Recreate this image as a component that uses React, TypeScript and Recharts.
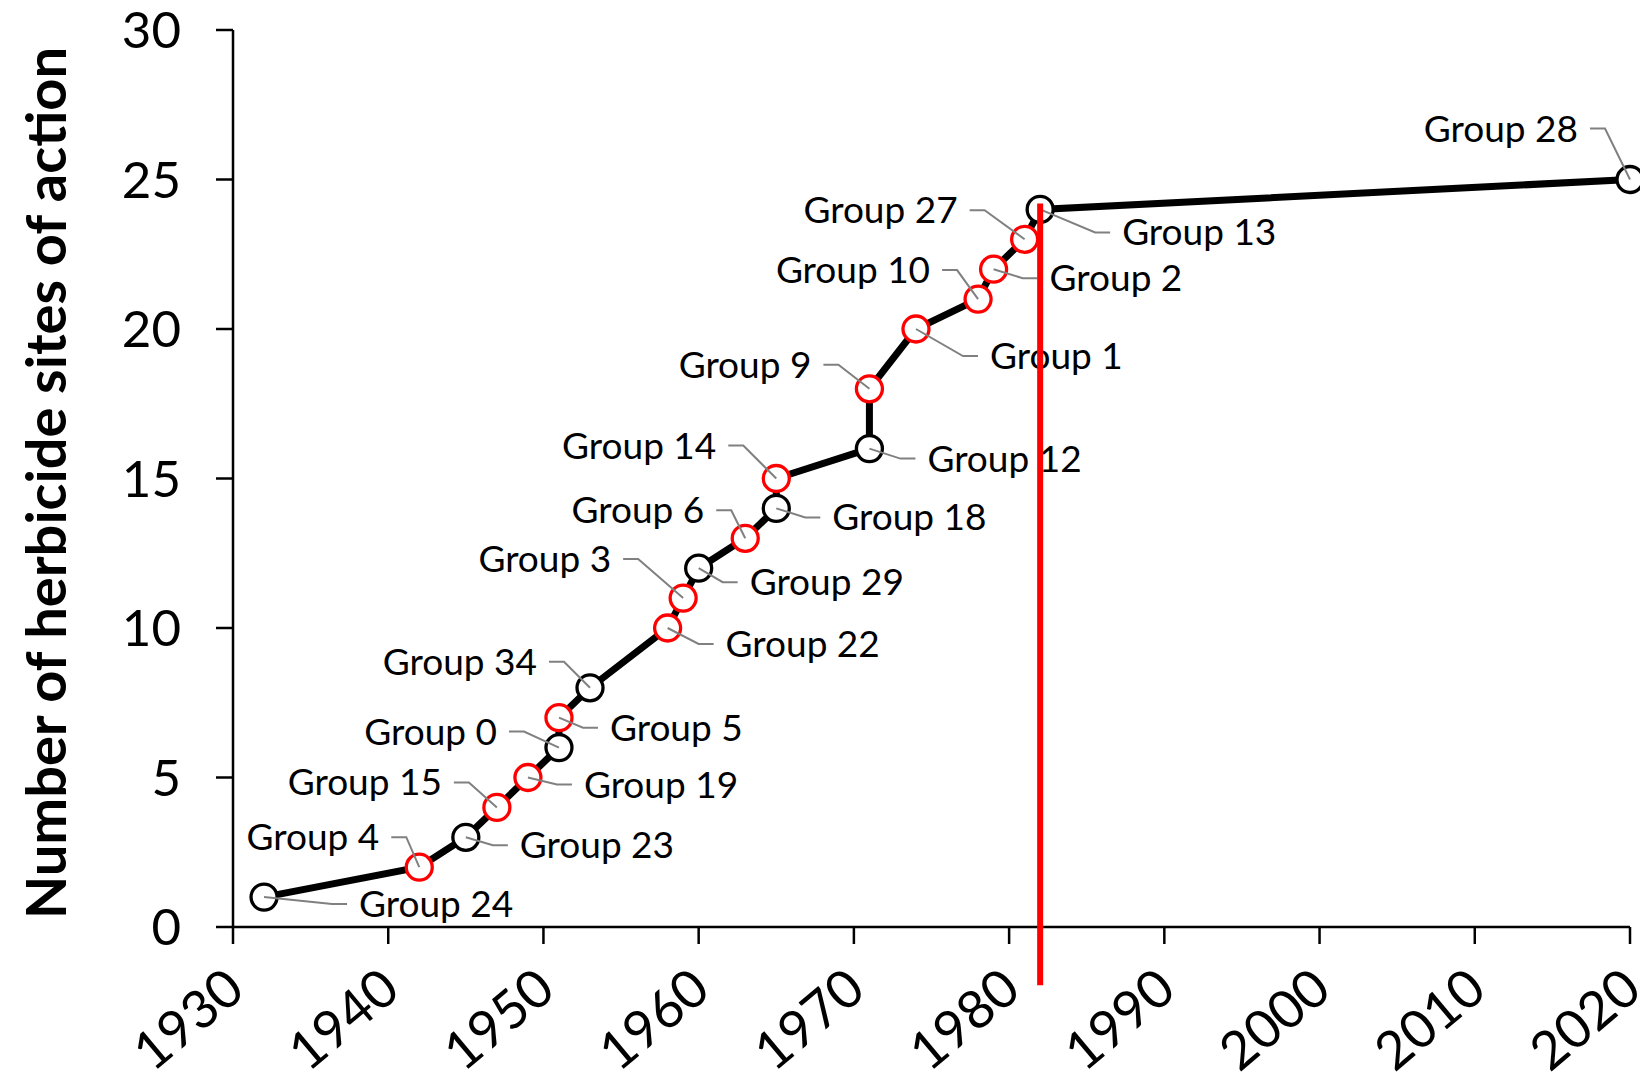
import {
  LineChart,
  Line,
  XAxis,
  YAxis,
  Label,
  LabelList,
  ReferenceLine,
} from 'recharts';

const years = [
  1932, 1942, 1945, 1947, 1949, 1951, 1951, 1953, 1958, 1959, 1960,
  1963, 1965, 1965, 1971, 1971, 1974, 1978, 1979, 1981, 1982, 2020,
];
const siteCounts = [
  1, 2, 3, 4, 5, 6, 7, 8, 10, 11, 12, 13, 14, 15, 16, 18, 20, 21, 22, 23, 24, 25,
];
const groupNames = [
  'Group 24', 'Group 4', 'Group 23', 'Group 15', 'Group 19', 'Group 0',
  'Group 5', 'Group 34', 'Group 22', 'Group 3', 'Group 29', 'Group 6',
  'Group 18', 'Group 14', 'Group 12', 'Group 9', 'Group 1', 'Group 10',
  'Group 2', 'Group 27', 'Group 13', 'Group 28',
];
const highlightedGroups = [
  'Group 4', 'Group 15', 'Group 19', 'Group 5', 'Group 22', 'Group 3',
  'Group 6', 'Group 14', 'Group 9', 'Group 1', 'Group 10', 'Group 2', 'Group 27',
];
const yearTicks = [1930, 1940, 1950, 1960, 1970, 1980, 1990, 2000, 2010, 2020];
const siteTicks = [0, 5, 10, 15, 20, 25, 30];
const markerYear = 1982;
const markerRange = [-1.95, 24.2];

// where each label sits relative to its point (near edge, cap middle)
const labelOffsets = [
  [95, 7], [-40, -30], [54, 8], [-55, -25], [56, 7], [-62, -16],
  [51, 10], [-53, -26], [58, 16], [-72, -39], [51, 14], [-41, -28],
  [56, 9], [-60, -33], [58, 10], [-58, -24], [74, 27], [-48, -29],
  [56, 9], [-67, -29], [82, 23], [-52, -51],
];

const rows = years.map((year, i) => ({
  year,
  sites: siteCounts[i],
  group: groupNames[i],
}));

const FONT = 'Lato, "Open Sans", sans-serif';

const Marker = (props: any) => {
  const { cx, cy, payload } = props;
  const red = highlightedGroups.includes(payload.group);
  return (
    <circle
      key={payload.group}
      cx={cx}
      cy={cy}
      r={13}
      fill="#fff"
      stroke={red ? '#ff0000' : '#000'}
      strokeWidth={3.3}
    />
  );
};

const GroupLabel = (props: any) => {
  const { x, y, value, index } = props;
  const [dx, dy] = labelOffsets[index];
  const right = dx > 0;
  const s = right ? 1 : -1;
  const lx = x + dx;
  const ly = y + dy;
  const path = `M${lx - s * 12},${ly} L${lx - s * 27},${ly} L${x},${y}`;
  return (
    <g>
      <path d={path} stroke="#808080" strokeWidth={2} fill="none" />
      <text
        x={lx}
        y={ly + 13}
        textAnchor={right ? 'start' : 'end'}
        fontFamily={FONT}
        fontSize={37}
        fill="#000"
      >
        {value}
      </text>
    </g>
  );
};

const YearTick = (props: any) => {
  const { x, y, payload } = props;
  return (
    <g transform={`translate(${x + 14},${y + 50}) rotate(-40)`}>
      <text x={0} y={0} textAnchor="end" fontFamily={FONT} fontSize={53} fill="#000">
        {payload.value}
      </text>
    </g>
  );
};

const AxisTitle = () => {
  const cx = 66;
  const cy = 483;
  return (
    <text
      x={cx}
      y={cy}
      transform={`rotate(-90, ${cx}, ${cy})`}
      textAnchor="middle"
      fontFamily={FONT}
      fontWeight="bold"
      fontSize={56}
      fill="#000"
    >
      Number of herbicide sites of action
    </text>
  );
};

export default function App() {
  return (
    <div style={{ width: 1640, height: 1081, background: '#fff' }}>
      <style>{'body{margin:0}'}</style>
      <LineChart
        width={1640}
        height={1081}
        data={rows}
        margin={{ top: 30, right: 10, bottom: 0, left: 0 }}
      >
        <XAxis
          type="number"
          dataKey="year"
          domain={[1930, 2020]}
          ticks={yearTicks}
          interval={0}
          height={154}
          tickSize={17}
          tickMargin={0}
          axisLine={{ stroke: '#000', strokeWidth: 2.5 }}
          tickLine={{ stroke: '#000', strokeWidth: 2.5 }}
          tick={(p: any) => <YearTick {...p} />}
        />
        <YAxis
          type="number"
          domain={[0, 30]}
          ticks={siteTicks}
          interval={0}
          width={233}
          tickSize={17}
          tickMargin={35}
          axisLine={{ stroke: '#000', strokeWidth: 2.5 }}
          tickLine={{ stroke: '#000', strokeWidth: 2.5 }}
          tick={{ fontFamily: FONT, fontSize: 51, fill: '#000' }}
        >
          <Label content={() => <AxisTitle />} />
        </YAxis>
        <Line
          dataKey="sites"
          type="linear"
          stroke="#000"
          strokeWidth={7}
          dot={(p: any) => <Marker {...p} />}
          activeDot={false}
          isAnimationActive={false}
        >
          <LabelList dataKey="group" content={(p: any) => <GroupLabel {...p} />} />
        </Line>
        <ReferenceLine
          segment={[
            { x: markerYear, y: markerRange[0] },
            { x: markerYear, y: markerRange[1] },
          ]}
          stroke="#ff0000"
          strokeWidth={6}
          ifOverflow="visible"
          zIndex={2500}
        />
      </LineChart>
    </div>
  );
}
